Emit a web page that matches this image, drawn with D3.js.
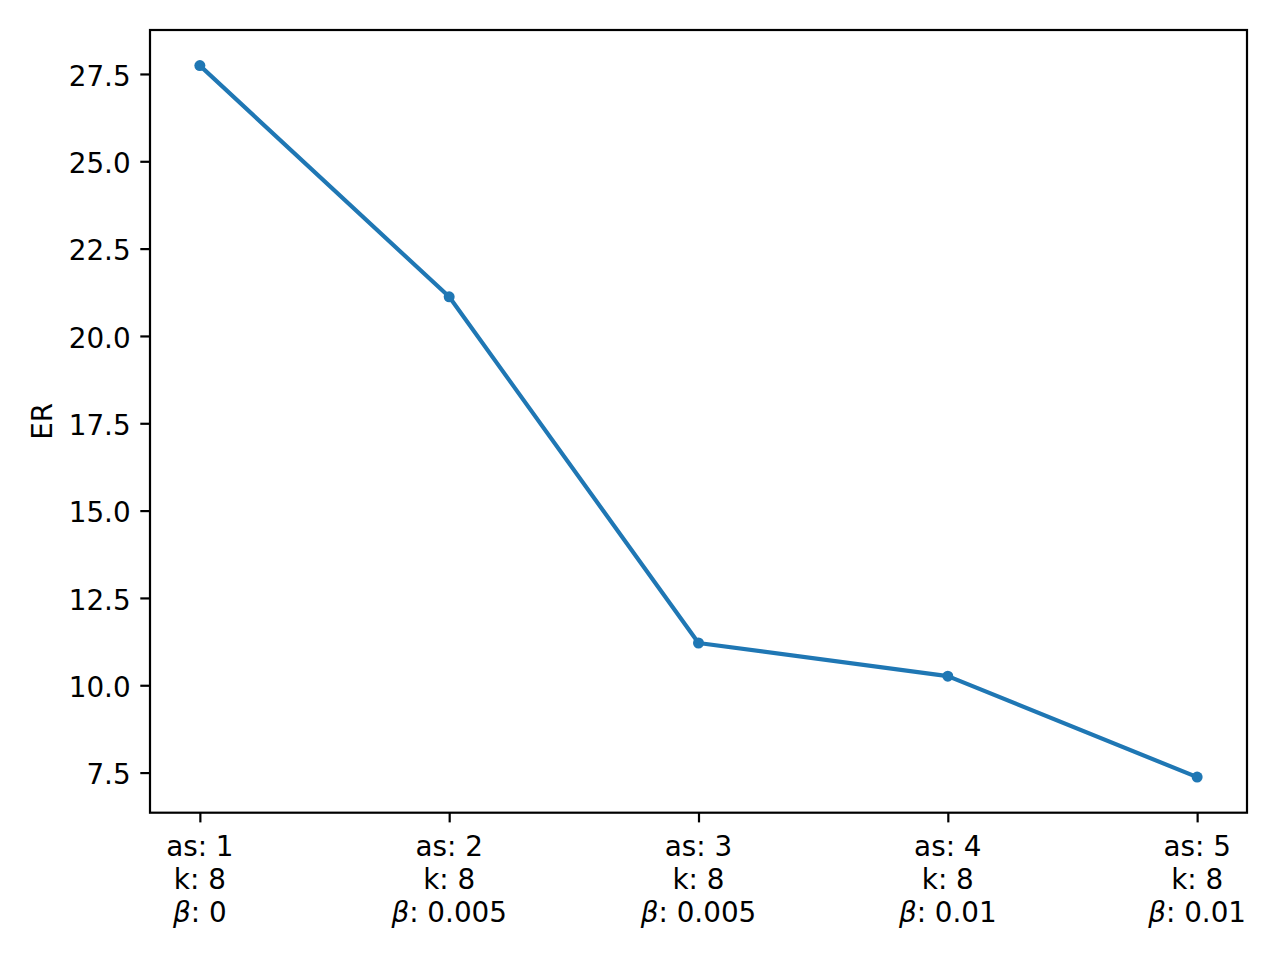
<!DOCTYPE html>
<html>
<head>
<meta charset="utf-8">
<script src="https://cdn.jsdelivr.net/npm/d3@7"></script>
<style>
html,body{margin:0;padding:0;background:#fff;}
svg{display:block;}
text{font-family:"DejaVu Sans",sans-serif;}
</style>
</head>
<body>
<svg id="chart" width="1280" height="960"></svg>
<script>
// ---- data ----
const asVals = [1, 2, 3, 4, 5];
const kVals = [8, 8, 8, 8, 8];
const betaVals = ["0", "0.005", "0.005", "0.01", "0.01"];
const erVals = [27.74, 21.12, 11.21, 10.26, 7.37];
const yTicks = [7.5, 10.0, 12.5, 15.0, 17.5, 20.0, 22.5, 25.0, 27.5];
const yLabel = "ER";

// ---- layout ----
const W = 1280, H = 960;
const m = {left: 150, right: 1247, top: 30, bottom: 812.7};
const fs = 27.8;
const tickLen = 9.7, tickPad = 9.7, axisW = 2.2;
const color = "#1f77b4";

const svg = d3.select("#chart");

const idx = d3.range(erVals.length);
const x = d3.scaleLinear().domain([-0.2, erVals.length - 1 + 0.2]).range([m.left, m.right]);
const yMin = d3.min(erVals), yMax = d3.max(erVals);
const pad = (yMax - yMin) * 0.05;
const y = d3.scaleLinear().domain([yMin - pad, yMax + pad]).range([m.bottom, m.top]);

// y axis
const yAxis = d3.axisLeft(y).tickValues(yTicks).tickFormat(d3.format(".1f"))
  .tickSize(tickLen).tickPadding(tickPad);
const gy = svg.append("g").attr("transform", `translate(${m.left},0)`).call(yAxis);
gy.select(".domain").remove();
gy.selectAll(".tick line").attr("stroke", "#000").attr("stroke-width", axisW);
gy.selectAll(".tick text").attr("font-size", fs).attr("fill", "#000")
  .attr("font-family", "DejaVu Sans").attr("dy", "0.40em");

// x axis
const xAxis = d3.axisBottom(x).tickValues(idx).tickFormat("")
  .tickSize(tickLen).tickPadding(tickPad);
const gx = svg.append("g").attr("transform", `translate(0,${m.bottom})`).call(xAxis);
gx.select(".domain").remove();
gx.selectAll(".tick line").attr("stroke", "#000").attr("stroke-width", axisW);
gx.selectAll(".tick text").remove();

const lineH = 33.4;
const firstBase = m.bottom + tickLen + tickPad + 23.5;
const lbl = svg.append("g").attr("font-size", fs).attr("fill", "#000").attr("text-anchor", "middle");
idx.forEach(i => {
  const t = lbl.append("text").attr("x", x(i)).attr("y", firstBase);
  t.append("tspan").attr("x", x(i)).attr("y", firstBase).text(`as: ${asVals[i]}`);
  t.append("tspan").attr("x", x(i)).attr("y", firstBase + lineH).text(`k: ${kVals[i]}`);
  const t3 = t.append("tspan").attr("x", x(i)).attr("y", firstBase + 2 * lineH);
  t3.append("tspan").attr("font-style", "italic").text("β");
  t3.append("tspan").text(`: ${betaVals[i]}`);
});

// y label
svg.append("text")
  .attr("transform", `translate(52,${(m.top + m.bottom) / 2}) rotate(-90)`)
  .attr("text-anchor", "middle").attr("font-size", fs).attr("fill", "#000")
  .text(yLabel);

// line
const line = d3.line().x((d, i) => x(i)).y(d => y(d));
svg.append("path").datum(erVals).attr("d", line)
  .attr("fill", "none").attr("stroke", color).attr("stroke-width", 4.17)
  .attr("stroke-linejoin", "round").attr("stroke-linecap", "square");

svg.append("g").selectAll("circle").data(erVals).join("circle")
  .attr("cx", (d, i) => x(i)).attr("cy", d => y(d)).attr("r", 5.5)
  .attr("fill", color);

// frame
svg.append("rect").attr("x", m.left).attr("y", m.top)
  .attr("width", m.right - m.left).attr("height", m.bottom - m.top)
  .attr("fill", "none").attr("stroke", "#000").attr("stroke-width", axisW);
</script>
</body>
</html>
